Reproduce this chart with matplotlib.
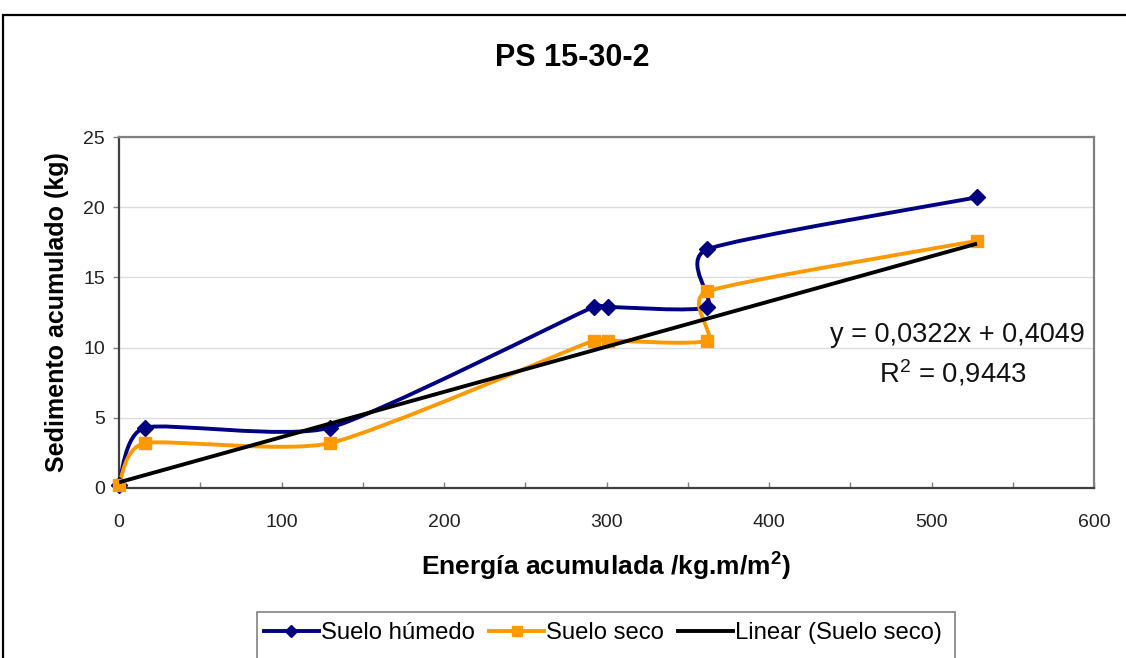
import numpy as np
import matplotlib
matplotlib.use("Agg")
import matplotlib.pyplot as plt
from matplotlib.path import Path
from matplotlib.patches import PathPatch, Rectangle
from matplotlib.lines import Line2D
from matplotlib.ticker import MultipleLocator

# ---- data ----
humedo_x = [0, 16, 130, 292, 301, 362, 362, 528]
humedo_y = [0.2, 4.3, 4.3, 12.9, 12.9, 12.9, 17.0, 20.7]
seco_x = [0, 16, 130, 292, 301, 362, 362, 528]
seco_y = [0.2, 3.2, 3.2, 10.5, 10.5, 10.5, 14.0, 17.6]
trend_slope = 0.0322
trend_intercept = 0.4049
trend_r2 = "0,9443"
title = "PS 15-30-2"
xlabel = "Energía acumulada /kg.m/m$^{2}$)"
ylabel = "Sedimento acumulado (kg)"
legend_labels = ["Suelo húmedo", "Suelo seco", "Linear (Suelo seco)"]
x_ticks = [0, 100, 200, 300, 400, 500, 600]
y_ticks = [0, 5, 10, 15, 20, 25]

plt.rcParams['font.family'] = ['Liberation Sans', 'DejaVu Sans']
plt.rcParams['mathtext.fontset'] = 'custom'
plt.rcParams['mathtext.rm'] = 'Liberation Sans'
plt.rcParams['mathtext.bf'] = 'Liberation Sans:bold'
plt.rcParams['mathtext.default'] = 'regular'

W, H = 1126, 658
fig = plt.figure(figsize=(W / 100, H / 100), dpi=100)
fig.patch.set_facecolor('white')

def fx(px):
    return px / W

def fy(py):
    return 1 - py / H

ax_left, ax_right, ax_top, ax_bottom = 119, 1094, 137, 488
ax = fig.add_axes([fx(ax_left), fy(ax_bottom), (ax_right - ax_left) / W, (ax_bottom - ax_top) / H])
ax.set_xlim(x_ticks[0], x_ticks[-1])
ax.set_ylim(y_ticks[0], y_ticks[-1])

for s in ['left', 'bottom']:
    ax.spines[s].set_color('#404040')
    ax.spines[s].set_linewidth(1.6)
for s in ['top', 'right']:
    ax.spines[s].set_color('#808080')
    ax.spines[s].set_linewidth(1.6)

ax.set_xticks(x_ticks)
ax.set_yticks(y_ticks)
ax.xaxis.set_minor_locator(MultipleLocator(50))
ax.tick_params(axis='x', which='both', direction='in', length=4, width=1, color='#808080',
               labelsize=14, pad=19, labelcolor='#222222')
ax.tick_params(axis='y', which='both', direction='out', length=4, width=1, color='#808080',
               labelsize=14, pad=6, labelcolor='#222222')
ax.grid(axis='y', color='#DDDDDD', linewidth=1.0)
ax.set_axisbelow(True)


def smooth_path(x, y, tension=0.1, clamp=0.5):
    pts = ax.transData.transform(np.column_stack([x, y]))
    n = len(pts)
    verts = [pts[0]]
    codes = [Path.MOVETO]
    for i in range(n - 1):
        p0 = pts[i - 1] if i > 0 else pts[i]
        p1 = pts[i]
        p2 = pts[i + 1]
        p3 = pts[i + 2] if i + 2 < n else pts[i + 1]
        seg = np.hypot(*(p2 - p1))
        v1 = (p2 - p0) * tension
        v2 = (p3 - p1) * tension
        for v in (v1, v2):
            ln = np.hypot(*v)
            if ln > clamp * seg and ln > 0:
                v *= clamp * seg / ln
        verts += [p1 + v1, p2 - v2, p2]
        codes += [Path.CURVE4] * 3
    verts = ax.transData.inverted().transform(np.array(verts))
    return Path(verts, codes)


navy = '#000080'
orange = '#FF9900'
lw = 2.8

ax.add_patch(PathPatch(smooth_path(humedo_x, humedo_y), fill=False, edgecolor=navy,
                       lw=lw, capstyle='round', joinstyle='round', zorder=3, clip_on=False))
ax.plot(humedo_x, humedo_y, linestyle='none', marker='D', markersize=8,
        color=navy, zorder=4, clip_on=False)

ax.add_patch(PathPatch(smooth_path(seco_x, seco_y), fill=False, edgecolor=orange,
                       lw=lw, capstyle='round', joinstyle='round', zorder=3, clip_on=False))
ax.plot(seco_x, seco_y, linestyle='none', marker='s', markersize=8.5,
        color=orange, zorder=4, clip_on=False)

tx = np.array([min(seco_x), max(seco_x)], dtype=float)
ax.plot(tx, trend_slope * tx + trend_intercept, color='black', lw=lw, zorder=5,
        solid_capstyle='butt')

ax.set_xlabel(xlabel, fontsize=19, fontweight='bold')
ax.xaxis.set_label_coords((606 - ax_left) / (ax_right - ax_left), (ax_bottom - 567) / (ax_bottom - ax_top))
ax.xaxis.label.set_va('center')
ax.set_ylabel(ylabel, fontsize=18, fontweight='bold')
ax.yaxis.set_label_coords((57 - ax_left) / (ax_right - ax_left), (ax_bottom - 312) / (ax_bottom - ax_top))
ax.yaxis.label.set_va('center')

fig.text(fx(572), fy(58), title, fontsize=22, fontweight='bold', ha='center', va='center')

eq = "y = {}x + {}".format(str(trend_slope).replace('.', ','), str(trend_intercept).replace('.', ','))
fig.text(fx(1085), fy(335), eq, fontsize=19.5, ha='right', va='center', color='#111111')
fig.text(fx(953), fy(373), "R$^{2}$ = " + trend_r2, fontsize=19.8, ha='center', va='center', color='#111111')

fig.add_artist(Rectangle((fx(3), -0.2), 1.5, fy(15) + 0.2, transform=fig.transFigure,
                         fill=False, edgecolor='black', lw=1.6))

handles = [
    Line2D([], [], color=navy, lw=lw, marker='D', markersize=6.5),
    Line2D([], [], color=orange, lw=lw, marker='s', markersize=7.5),
    Line2D([], [], color='black', lw=lw),
]
fig.add_artist(Rectangle((fx(257), -0.2), fx(955) - fx(257), fy(612) + 0.2, transform=fig.transFigure,
                         fill=True, facecolor='white', edgecolor='#808080', lw=1.2))
leg = fig.legend(handles, legend_labels, loc='center left', bbox_to_anchor=(fx(264), fy(633)),
                 ncol=3, frameon=False, fontsize=17.2, handlelength=2.3, handletextpad=0.08,
                 columnspacing=0.6, borderaxespad=0, borderpad=0)

fig.savefig('out.png', dpi=100, facecolor='white')
